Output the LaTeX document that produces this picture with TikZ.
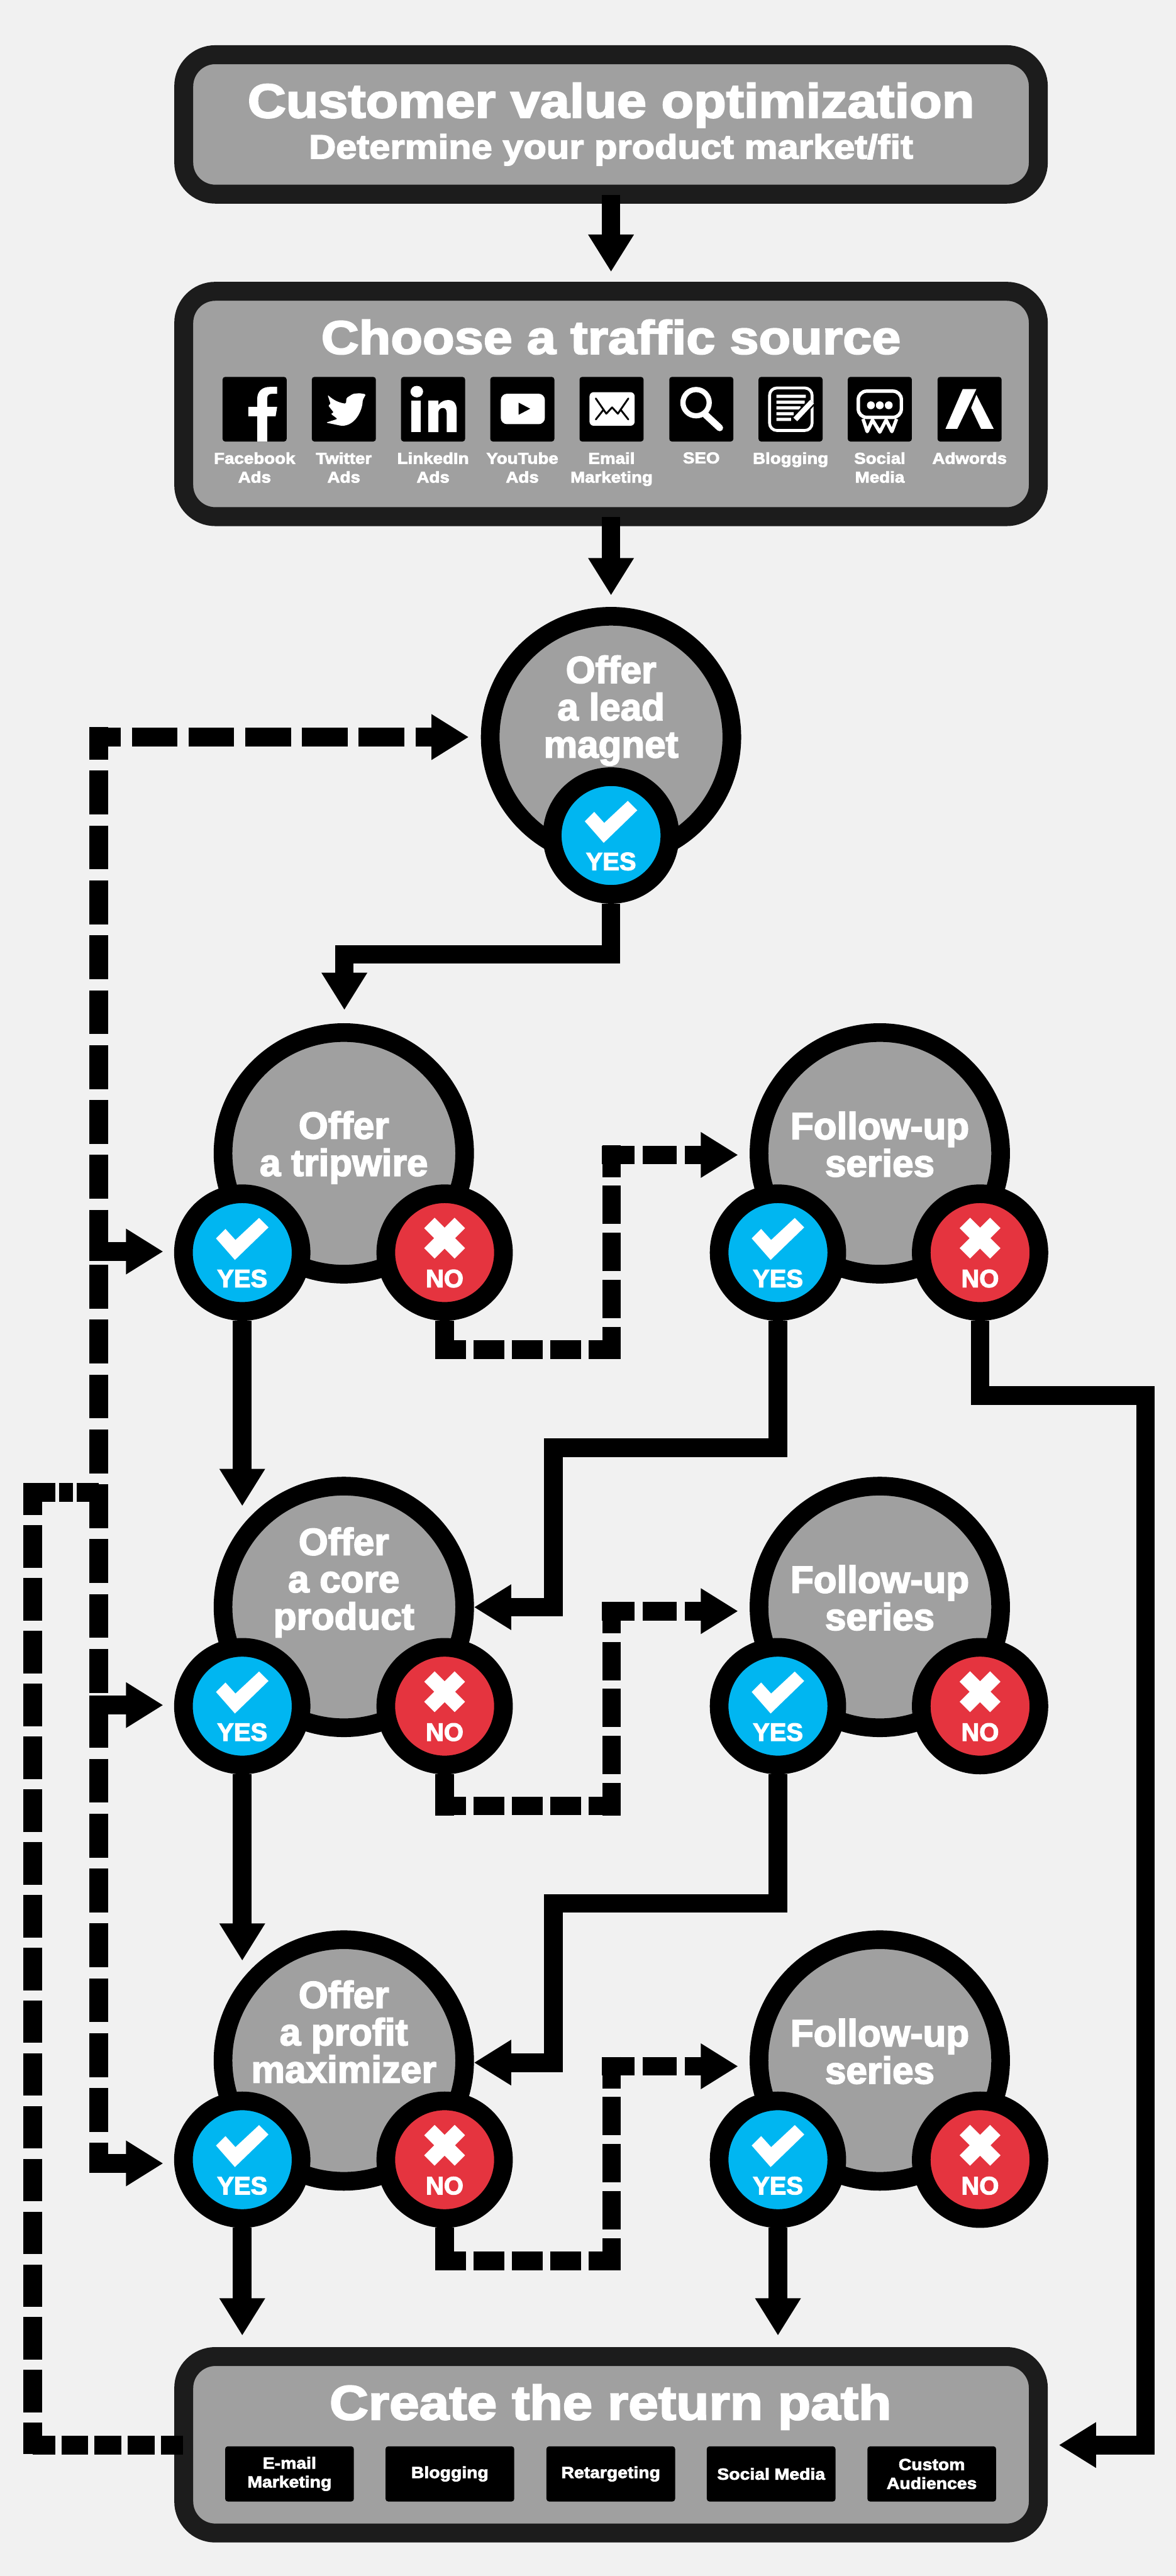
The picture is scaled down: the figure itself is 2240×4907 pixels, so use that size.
\documentclass[tikz,border=0pt]{standalone}
\usepackage{fontspec}
\newfontfamily\headfont{Liberation Sans Bold}[FakeStretch=1.11,FakeBold=3]
\newfontfamily\bodyfont{Liberation Sans Bold}[FakeBold=3]
\usetikzlibrary{arrows.meta,positioning}
\definecolor{pagegray}{HTML}{F1F1F1}
\definecolor{fillgray}{HTML}{A0A0A0}
\definecolor{edgegray}{HTML}{1C1C1C}
\definecolor{yesblue}{HTML}{00B6F1}
\definecolor{nored}{HTML}{E5343F}
\tikzset{
  flowbox/.style={draw=edgegray, fill=fillgray, line width=0.36cm,
    rounded corners=0.6cm, minimum width=16.27cm, inner sep=0pt},
  offerdisc/.style={circle, draw=black, fill=fillgray, line width=0.355cm,
    minimum size=4.6cm, inner sep=0pt},
  yesdisc/.style={circle, draw=black, fill=yesblue, line width=0.355cm,
    minimum size=2.24cm, inner sep=0pt},
  nodisc/.style={yesdisc, fill=nored},
  icontile/.style={fill=black, rounded corners=0.05cm, minimum width=1.22cm,
    minimum height=1.23cm, inner sep=0pt},
  pathtile/.style={icontile, minimum width=2.45cm, minimum height=1.05cm,
    text=white, align=center, font=\headfont\fontsize{8.7}{10.2}\selectfont},
  titletext/.style={text=white, inner sep=0pt, anchor=base,
    font=\headfont\fontsize{25.95}{30}\selectfont},
  subtext/.style={titletext, font=\headfont\fontsize{18.3}{22}\selectfont},
  icontext/.style={text=white, inner sep=0pt, anchor=north, align=center,
    font=\headfont\fontsize{8.5}{10.2}\selectfont},
  offertext/.style={text=white, inner sep=0pt, anchor=north, align=center,
    font=\bodyfont\fontsize{20.5}{20.2}\selectfont},
  disctext/.style={text=white, inner sep=0pt, anchor=base,
    font=\bodyfont\fontsize{13.6}{15}\selectfont},
  flowline/.style={line width=0.355cm, line join=miter},
  railline/.style={flowline, dash pattern=on 0.835cm off 0.21cm, dash phase=0.215cm},
  backline/.style={flowline, dash pattern=on 0.81cm off 0.195cm, dash phase=0.2cm},
  stepdown/.style={flowline, dash pattern=on 0.73cm off 0.165cm, dash phase=0.13cm},
  stepacross/.style={flowline, dash pattern=on 0.59cm off 0.14cm},
  stepout/.style={flowline, dash pattern=on 0.65cm off 0.15cm, dash phase=0.03cm}
}

\begin{document}
\begin{tikzpicture}[
    x=0.01cm, y=-0.01cm, >={Triangle[length=0.71cm,width=0.82cm]}
  ]

  \path[use as bounding box, fill=pagegray] (0,0) rectangle (2240,4907);

  % ------------------ Boxes ------------------
  \node[flowbox, minimum height=2.655cm] (cvo) at (1164,237) {};
  \node[titletext] (cvotitle) at (1164,224) {Customer value optimization};
  \node[subtext] (cvosub) at (1164,302) {Determine your product market/fit};

  \node[flowbox, minimum height=4.29cm] (traffic) at (1164,769.5) {};
  \node[titletext, font=\headfont\fontsize{25.45}{30}\selectfont] (traffictitle) at (1164,674)
    {Choose a traffic source};

  \node[flowbox, minimum height=3.36cm] (retbox) at (1164,4657) {};
  \node[titletext, font=\headfont\fontsize{26.25}{30}\selectfont] (rettitle) at (1163,4609)
    {Create the return path};

  % ------------------ Traffic source tiles ------------------
  \foreach \nm/\x/\txt in {fb/485/Facebook\\Ads, tw/655/Twitter\\Ads,
      li/825/LinkedIn\\Ads, yt/995/YouTube\\Ads, em/1165/Email\\Marketing,
      seo/1336/SEO, blog/1506/Blogging, soc/1676/Social\\Media, adw/1847/Adwords} {
    \node[icontile] (\nm) at (\x,779.5) {};
    \node[icontext] (\nm text) at (\x,861) {\txt};
  }

  % facebook
  \fill[white] (490,841) -- (490,793) -- (473,793) -- (473,775) -- (490,775)
    -- (490,760) .. controls (490,745) and (500,737) .. (514,737) -- (528,737)
    -- (528,750) -- (519,750) .. controls (512,750) and (509,753) .. (509,759)
    -- (509,775) -- (528,775) -- (525,793) -- (509,793) -- (509,841) -- cycle;
  % twitter
  \fill[white, rounded corners=0.02cm] (673,750) -- (685,749) -- (697,751)
    -- (691,762) .. controls (690,785) and (675,811) .. (650,811) -- (621,805)
    -- (643,798) -- (630,788) -- (636,786) -- (625,772) -- (630,770) -- (624,752)
    .. controls (635,762) and (645,767) .. (659,769) -- (660,758) -- cycle;
  % linkedin
  \fill[white] (794,746) ellipse [x radius=12, y radius=11];
  \fill[white] (783,763) rectangle (802,823);
  \fill[white] (816,763) -- (835,763) -- (835,772)
    .. controls (840,764) and (848,762) .. (854,762)
    .. controls (865,762) and (870,770) .. (870,782) -- (870,823) -- (851,823)
    -- (851,786) .. controls (851,780) and (848,777) .. (844,777)
    .. controls (838,777) and (835,781) .. (835,787) -- (835,823) -- (816,823) -- cycle;
  % youtube
  \fill[white, rounded corners=0.12cm] (954,750) rectangle (1038,808);
  \fill[black] (988,767) -- (1010,778.5) -- (988,790) -- cycle;
  % email
  \fill[white, rounded corners=0.08cm] (1123,747) rectangle (1209,811);
  \draw[black, line width=0.035cm, line cap=round, line join=round]
    (1135,759) -- (1155,788) -- (1166,776) -- (1177,788) -- (1197,759)
    (1135,799) -- (1150,780) (1197,799) -- (1182,780);
  % seo
  \draw[white, line width=0.1cm] (1326,767) ellipse [x radius=25, y radius=25];
  \draw[white, line width=0.13cm, line cap=round] (1344,790) -- (1371,815);
  % blogging
  \draw[white, line width=0.055cm, rounded corners=0.14cm] (1466,739) rectangle (1547,820);
  \fill[white] (1479,752) rectangle (1535,758) (1479,763) rectangle (1533,769)
    (1479,774) rectangle (1525,780) (1479,785) rectangle (1512,791)
    (1479,796) rectangle (1507,802);
  \draw[black, line width=0.16cm] (1515,799) -- (1547,765);
  \draw[white, line width=0.1cm] (1515,799) -- (1547,765);
  % social media
  \draw[white, line width=0.065cm, rounded corners=0.16cm] (1635,745) rectangle (1717,795);
  \fill[white] (1659,772) circle [radius=7.5] (1676,772) circle [radius=7.5] (1693,772) circle [radius=7.5];
  \draw[white, line width=0.065cm, line join=round]
    (1644,798) -- (1652,822) -- (1662,800) -- (1676,823) -- (1688,800) -- (1699,822) -- (1708,798);
  % adwords
  \fill[white] (1801,817) -- (1834,741) -- (1860,741) -- (1823.5,817) -- cycle;
  \fill[white] (1860,752) -- (1893,817) -- (1869,817) -- (1850,777) -- cycle;

  % ------------------ Return path tiles ------------------
  \foreach \nm/\x/\txt in {retmail/551.5/E-mail\\Marketing, retblog/857/Blogging,
      rettarget/1163.5/Retargeting, retsocial/1469/Social Media,
      retcustom/1775/Custom\\Audiences} {
    \node[pathtile] (\nm) at (\x,4712.5) {\txt};
  }

  % ------------------ Offers ------------------
  \node[offerdisc] (lead) at (1164,1404) {};
  \node[offerdisc] (trip) at (655,2197) {};
  \node[offerdisc] (core) at (655,3061) {};
  \node[offerdisc] (profit) at (655,3925) {};
  \node[offerdisc] (followa) at (1676,2197) {};
  \node[offerdisc] (followb) at (1676,3061) {};
  \node[offerdisc] (followc) at (1676,3925) {};

  \node[offertext] (leadtext) at (1164,1248) {Offer\\a lead\\magnet};
  \node[offertext] (triptext) at (655,2116) {Offer\\a tripwire};
  \node[offertext] (coretext) at (655,2909) {Offer\\a core\\product};
  \node[offertext] (profittext) at (655,3772) {Offer\\a profit\\maximizer};
  \foreach \nm/\y in {followa/2117, followb/2981, followc/3845} {
    \node[offertext] (\nm text) at (1676,\y) {Follow-up\\series};
  }

  % ------------------ Yes and no marks ------------------
  \foreach \nm/\x/\y in {leadyes/1164/1591.5, tripyes/461.5/2386, coreyes/461.5/3250,
      profityes/461.5/4114, followayes/1482/2386, followbyes/1482/3250,
      followcyes/1482/4114} {
    \node[yesdisc] (\nm) at (\x,\y) {};
    \fill[white, shift={(\x,\y)}] (-50,-27) -- (-32,-45) -- (-13,-24) -- (32,-66)
      -- (50,-48) -- (-14,14) -- cycle;
    \node[disctext] (\nm text) at (\x,\y+66) {YES};
  }
  \foreach \nm/\x/\y in {tripno/847/2386, coreno/847/3250, profitno/847/4114,
      followano/1867/2386, followbno/1867/3250, followcno/1867/4114} {
    \node[nodisc] (\nm) at (\x,\y) {};
    \draw[white, line width=0.28cm, shift={(\x,\y)}]
      (-29,-56.5) -- (29,1.5) (-29,1.5) -- (29,-56.5);
    \node[disctext] (\nm text) at (\x,\y+66) {NO};
  }

  % ------------------ Solid connectors ------------------
  \coordinate (tripknee) at (656,1818);
  \coordinate (tripin) at (656,1924);
  \coordinate (coretop) at (461.5,2869);
  \coordinate (profittop) at (461.5,3735);
  \coordinate (retleft) at (461.5,4449);
  \coordinate (retright) at (1482,4449);
  \coordinate (coreknee) at (1054,2758);
  \coordinate (coreelbow) at (1054,3061.5);
  \coordinate (profitknee) at (1054,3625.5);
  \coordinate (profitelbow) at (1054,3929);
  \coordinate (farknee) at (2182,2658);
  \coordinate (farfoot) at (2182,4657.5);

  \draw[flowline, ->, shorten <=-0.17cm, shorten >=0.19cm] (cvo.south) -- (traffic.north);
  \draw[flowline, ->, shorten <=-0.17cm, shorten >=0.22cm] (traffic.south) -- (lead.north);
  \draw[flowline, ->] (leadyes.south) |- (tripknee) -- (tripin);
  \draw[flowline, ->] (tripyes.south) -- (coretop);
  \draw[flowline, ->] (coreyes.south) -- (profittop);
  \draw[flowline, ->] (profityes.south) -- (retleft);
  \draw[flowline, ->] (followcyes.south) -- (retright);
  \draw[flowline, ->] (followayes.south) |- (coreknee) -- (coreelbow) -- (core.east |- coreelbow);
  \draw[flowline, ->] (followbyes.south) |- (profitknee) -- (profitelbow) -- (profit.east |- profitelbow);
  \draw[flowline, ->, shorten >=0.21cm] (followano.south) |- (farknee) -- (farfoot) -- (retbox.east |- farfoot);

  % ------------------ Dashed steps from no to follow-up ------------------
  \foreach \no/\fol/\yup/\ylow in {tripno/followa/2200/2571, coreno/followb/3069/3440,
      profitno/followc/3936/4307} {
    \coordinate (\no foot) at (847,\ylow+18);
    \coordinate (\no start) at (829,\ylow);
    \coordinate (\no end) at (1183,\ylow);
    \coordinate (\no top) at (1165,\yup-18);
    \coordinate (\no bottom) at (1165,\ylow+18);
    \coordinate (\no turn) at (1147,\yup);
    \draw[flowline] (\no.south) -- (\no foot);
    \draw[stepacross] (\no start) -- (\no end);
    \draw[stepdown] (\no top) -- (\no bottom);
    \draw[stepout, ->, shorten >=0.22cm] (\no turn) -- (\fol.west |- \no turn);
  }

  % ------------------ Dashed rails on the left ------------------
  \coordinate (railtop) at (188,1385);
  \coordinate (railbottom) at (188,4139);
  \coordinate (railturn) at (170,1404);
  \coordinate (backtop) at (62,2825);
  \coordinate (backbottom) at (62,4675);
  \coordinate (backturn) at (62,2842.5);
  \coordinate (backjoin) at (188,2842.5);
  \coordinate (backfoot) at (62,4657.5);

  \draw[railline] (railtop) -- (railbottom);
  \draw[flowline, dash pattern=on 0.87cm off 0.21cm, dash phase=0.27cm, ->, shorten >=0.23cm]
    (railturn) -- (lead.west);
  \draw[backline] (backtop) -- (backbottom);
  \draw[flowline, dash pattern=on 0.43cm off 0.07cm on 0.27cm off 0.07cm on 0.6cm]
    (backturn) -- (backjoin);
  \draw[flowline, dash pattern=on 0.51cm off 0.12cm, dash phase=0.08cm, shorten >=-0.17cm]
    (backfoot) -- (backfoot -| retbox.west);

  % branches into the yes marks
  \foreach \nm/\y in {tripyes/2384, coreyes/3248, profityes/4121} {
    \coordinate (\nm from) at (170,\y);
    \coordinate (\nm in) at (311,\y);
    \draw[flowline, ->] (\nm from) -- (\nm in);
  }

\end{tikzpicture}
\end{document}
